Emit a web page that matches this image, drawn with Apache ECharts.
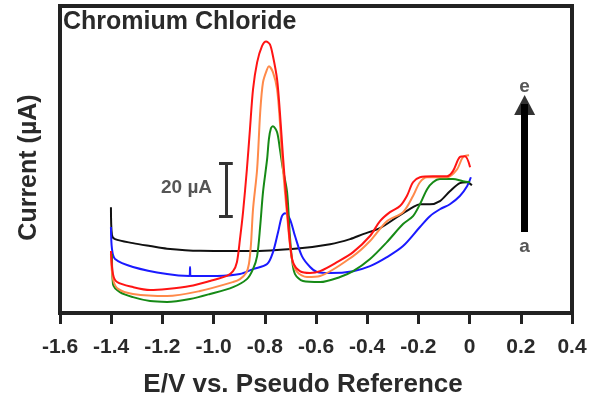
<!DOCTYPE html>
<html><head><meta charset="utf-8">
<script src="https://cdn.jsdelivr.net/npm/echarts/dist/echarts.min.js"></script>
<style>html,body{margin:0;padding:0;background:#fff}#c{width:592px;height:403px}</style>
</head><body><div id="c"></div>
<script>
const xTickLabels = ['-1.6','-1.4','-1.2','-1.0','-0.8','-0.6','-0.4','-0.2','0','0.2','0.4'];
const chartTitle = 'Chromium Chloride';
const xName = 'E/V vs. Pseudo Reference';
const yName = 'Current (\u00b5A)';
const scaleBarText = '20 \u00b5A';
const arrowLabels = ['a', 'e'];

// curve a (black)
const curveA = [[-1.401,40.0],[-1.397,29.4],[-1.385,27.9],[-1.315,26.4],[-1.248,25.3],[-1.182,24.3],[-1.053,23.5],[-0.858,23.4],[-0.663,24.5],[-0.545,26.0],[-0.467,27.9],[-0.416,29.8],[-0.350,32.1],[-0.284,36.2],[-0.221,40.0],[-0.194,41.1],[-0.155,41.1],[-0.116,42.3],[-0.077,46.0],[-0.038,49.1],[-0.010,49.4],[0.009,48.3]];
// curve b (blue)
const curveB = [[-1.401,32.5],[-1.397,24.2],[-1.385,20.4],[-1.315,17.4],[-1.182,14.7],[-1.094,14.0],[-1.092,17.4],[-1.090,14.0],[-0.987,14.0],[-0.897,14.7],[-0.846,16.6],[-0.791,18.5],[-0.768,23.0],[-0.748,30.6],[-0.733,36.6],[-0.721,37.7],[-0.702,35.5],[-0.682,29.1],[-0.655,21.5],[-0.623,17.4],[-0.596,15.5],[-0.545,15.1],[-0.455,15.8],[-0.389,17.7],[-0.323,21.1],[-0.260,25.3],[-0.194,32.5],[-0.155,36.6],[-0.116,39.2],[-0.077,41.1],[-0.038,44.2],[-0.010,47.9],[0.005,51.3]];
// curve c (green)
const curveC = [[-1.397,22.3],[-1.393,10.9],[-1.366,7.9],[-1.315,6.0],[-1.248,4.5],[-1.182,4.2],[-1.092,5.3],[-1.014,7.2],[-0.924,9.8],[-0.870,12.8],[-0.846,16.6],[-0.830,21.5],[-0.818,32.8],[-0.807,45.7],[-0.791,58.1],[-0.784,65.7],[-0.776,69.8],[-0.768,70.6],[-0.752,68.3],[-0.741,61.9],[-0.729,54.3],[-0.713,45.7],[-0.702,29.1],[-0.694,20.4],[-0.682,14.7],[-0.651,12.1],[-0.584,11.7],[-0.506,13.6],[-0.455,15.8],[-0.389,20.4],[-0.323,26.8],[-0.260,33.6],[-0.221,36.6],[-0.194,41.1],[-0.166,46.8],[-0.143,49.4],[-0.116,50.6],[-0.065,50.6],[-0.026,49.8],[0.002,49.4]];
// curve d (orange)
const curveD = [[-1.401,22.3],[-1.393,12.8],[-1.373,9.1],[-1.315,7.2],[-1.182,6.4],[-1.053,8.3],[-0.924,11.7],[-0.897,12.8],[-0.873,15.1],[-0.862,18.5],[-0.854,26.0],[-0.846,39.2],[-0.830,54.3],[-0.818,75.8],[-0.807,87.2],[-0.791,92.1],[-0.784,93.2],[-0.768,90.9],[-0.752,84.5],[-0.741,72.1],[-0.733,59.2],[-0.709,32.8],[-0.694,20.4],[-0.674,15.5],[-0.635,13.6],[-0.584,14.0],[-0.455,21.5],[-0.389,27.2],[-0.323,34.7],[-0.260,38.1],[-0.221,44.2],[-0.194,49.4],[-0.166,51.3],[-0.088,51.3],[-0.049,54.3],[-0.026,58.9],[-0.002,59.6]];
// curve e (red)
const curveE = [[-1.401,23.4],[-1.393,14.7],[-1.377,11.7],[-1.315,9.8],[-1.248,8.7],[-1.182,9.1],[-1.092,10.2],[-1.014,12.1],[-0.948,14.0],[-0.924,15.8],[-0.909,19.2],[-0.897,27.9],[-0.885,38.1],[-0.870,54.3],[-0.858,69.4],[-0.846,84.5],[-0.830,94.7],[-0.811,100.8],[-0.795,102.6],[-0.780,101.5],[-0.768,97.0],[-0.752,88.3],[-0.741,75.8],[-0.729,59.2],[-0.713,39.2],[-0.702,26.8],[-0.690,19.2],[-0.663,15.8],[-0.623,15.1],[-0.584,15.8],[-0.518,19.2],[-0.455,23.0],[-0.389,29.1],[-0.350,34.7],[-0.311,38.1],[-0.272,40.4],[-0.245,44.2],[-0.221,49.4],[-0.194,51.3],[-0.143,51.7],[-0.088,51.7],[-0.065,53.6],[-0.038,58.9],[-0.018,59.2],[0.002,55.1]];

// annotation anchors (data units)
const scaleBar = {x: -0.952, low: 36.6, high: 56.6, capHalf: 0.027, labelX: -1.006, labelY: 47.5};
const arrow = {x: 0.215, from: 30.6, to: 79.0, head: 78.6, labelA: 24.9, labelE: 85.6};

const curves = [
  {name: 'a', data: curveA, color: '#111111'},
  {name: 'b', data: curveB, color: '#1a1aff'},
  {name: 'c', data: curveC, color: '#168a16'},
  {name: 'd', data: curveD, color: '#ff8a4a'},
  {name: 'e', data: curveE, color: '#ff1414'}
];

const FONT = 'Liberation Sans, Arial, sans-serif';
const chart = echarts.init(document.getElementById('c'), null, {renderer: 'canvas'});

const series = curves.map(c => ({
  type: 'line', name: c.name, data: c.data, showSymbol: false, symbol: 'none',
  smooth: 0.3,
  lineStyle: {color: c.color, width: 2}, silent: true, z: 3
}));

series.push({
  type: 'line', data: [], silent: true, z: 4,
  markLine: {
    silent: true, animation: false, symbol: 'none', label: {show: false},
    lineStyle: {color: '#333', width: 3, type: 'solid'},
    data: [
      [{coord: [scaleBar.x, scaleBar.low]}, {coord: [scaleBar.x, scaleBar.high]}],
      [{coord: [scaleBar.x - scaleBar.capHalf, scaleBar.low]}, {coord: [scaleBar.x + scaleBar.capHalf, scaleBar.low]}],
      [{coord: [scaleBar.x - scaleBar.capHalf, scaleBar.high]}, {coord: [scaleBar.x + scaleBar.capHalf, scaleBar.high]}]
    ]
  }
});
series.push({
  type: 'line', data: [], silent: true, z: 4,
  markLine: {
    silent: true, animation: false, symbol: 'none',
    label: {show: false},
    lineStyle: {color: '#000', width: 7, type: 'solid'},
    data: [[{coord: [arrow.x, arrow.from]}, {coord: [arrow.x, arrow.to]}]]
  }
});
series.push({
  type: 'scatter', silent: true, z: 5, symbol: 'triangle', symbolSize: [21, 20],
  itemStyle: {color: '#000'},
  data: [[arrow.x, arrow.head]]
});
series.push({
  type: 'scatter', symbolSize: 0, silent: true, z: 5,
  data: [
    {value: [arrow.x, arrow.labelA], label: {formatter: arrowLabels[0]}},
    {value: [arrow.x, arrow.labelE], label: {formatter: arrowLabels[1]}},
    {value: [scaleBar.labelX, scaleBar.labelY], label: {formatter: scaleBarText, align: 'right', fontSize: 19}}
  ],
  label: {show: true, position: [0, 0], align: 'center', verticalAlign: 'middle',
    fontFamily: FONT, fontWeight: 'bold', fontSize: 19, color: '#2a2a2a'}
});

chart.setOption({
  animation: false,
  backgroundColor: '#fff',
  title: {text: chartTitle, left: 63, top: 10, padding: 0,
    textStyle: {fontFamily: FONT, fontWeight: 'bold', fontSize: 25, color: '#2a2a2a'}},
  grid: {left: 60, right: 20, top: 6, bottom: 89, show: true, borderColor: '#222', borderWidth: 4, backgroundColor: 'transparent'},
  xAxis: {
    type: 'value', min: -1.6, max: 0.4, interval: 0.2,
    name: xName, nameLocation: 'middle', nameGap: 59,
    nameTextStyle: {fontFamily: FONT, fontWeight: 'bold', fontSize: 26, color: '#2a2a2a', padding: [0, 26, 0, 0]},
    axisLine: {show: true, lineStyle: {color: '#222', width: 4}},
    axisTick: {show: true, length: 11, lineStyle: {color: '#222', width: 3}},
    axisLabel: {margin: 24, fontFamily: FONT, fontWeight: 'bold', fontSize: 21, color: '#2a2a2a',
      formatter: v => { const i = Math.round((v + 1.6) / 0.2); return xTickLabels[i] ?? ''; }},
    splitLine: {show: false}
  },
  yAxis: {
    type: 'value', min: 0, max: 116,
    name: yName, nameLocation: 'middle', nameGap: 18, nameRotate: 90,
    nameTextStyle: {fontFamily: FONT, fontWeight: 'bold', fontSize: 25, color: '#2a2a2a', padding: [0, 16, 0, 0]},
    axisLine: {show: false}, axisTick: {show: false}, axisLabel: {show: false}, splitLine: {show: false}
  },
  series: series
});
</script>
</body></html>
